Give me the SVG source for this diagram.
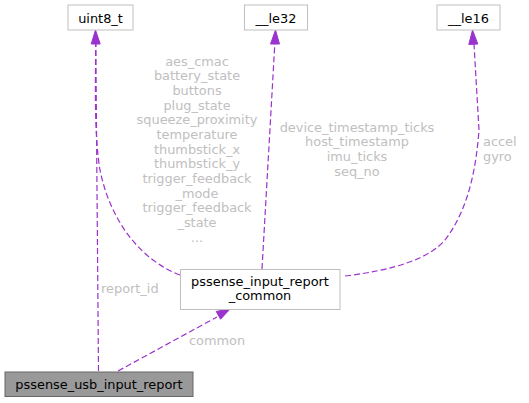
<svg xmlns="http://www.w3.org/2000/svg" width="529" height="403" viewBox="0 0 529 403">
<style>
text{font-family:"DejaVu Sans",sans-serif;font-size:12.9px}
.n{fill:#fff;stroke:#bfbfbf;stroke-width:1}
.nt{fill:#000;text-anchor:middle}
.e{fill:none;stroke:#9a32cd;stroke-width:1.2;stroke-dasharray:6,3}
.a{fill:#9a32cd;stroke:#9a32cd}
.l{fill:#c0c0c0}
.lm{fill:#c0c0c0;text-anchor:middle}
</style>
<rect width="529" height="403" fill="#fff"/>
<g id="edges">
<path class="e" d="M98.5,371 L95.8,44"/>
<path class="e" d="M180,275 C140,260 110,220 100,170 C95,140 95,100 95.8,44"/>
<polygon class="a" points="95.5,30 91.2,44 100.2,44"/>
<path class="e" d="M262,269 L274.8,44"/>
<polygon class="a" points="275.5,30 270.5,44 279.5,44"/>
<path class="e" d="M345,276 C395,270 430,258 445,240 C468,210 476,170 479,130 L474,44"/>
<polygon class="a" points="472.5,30 468.8,44.5 477.8,44"/>
<path class="e" d="M118,371 L217,317"/>
<polygon class="a" points="230,309 216.2,311.4 220.6,319.2"/>
<g class="labels">
<text class="lm" x="197"><tspan x="197" y="65.5">aes_cmac</tspan><tspan x="197" y="80.2">battery_state</tspan><tspan x="197" y="94.8">buttons</tspan><tspan x="197" y="109.5">plug_state</tspan><tspan x="197" y="124.2">squeeze_proximity</tspan><tspan x="197" y="138.8">temperature</tspan><tspan x="197" y="153.5">thumbstick_x</tspan><tspan x="197" y="168.2">thumbstick_y</tspan><tspan x="197" y="182.8">trigger_feedback</tspan><tspan x="197" y="197.5">_mode</tspan><tspan x="197" y="212.2">trigger_feedback</tspan><tspan x="197" y="226.8">_state</tspan><tspan x="197" y="241.5">...</tspan></text>
<text class="lm" x="357"><tspan x="357" y="131.5">device_timestamp_ticks</tspan><tspan x="357" y="146.2">host_timestamp</tspan><tspan x="357" y="160.8">imu_ticks</tspan><tspan x="357" y="175.5">seq_no</tspan></text>
<text class="l" x="483"><tspan x="483" y="146.2">accel</tspan><tspan x="483" y="160.8">gyro</tspan></text>
<text class="l" x="101" y="293">report_id</text>
<text class="lm" x="217" y="344.5">common</text>
</g>
</g>
<g id="node_uint8_t">
<rect class="n" x="68" y="5" width="65" height="25"/>
<text class="nt" x="100.5" y="22.5">uint8_t</text>
</g>
<g id="node_le32">
<rect class="n" x="244.5" y="5" width="63" height="25"/>
<text class="nt" x="276" y="22.5">__le32</text>
</g>
<g id="node_le16">
<rect class="n" x="437" y="5" width="63" height="25"/>
<text class="nt" x="468.5" y="22.5">__le16</text>
</g>
<g id="node_common">
<rect class="n" x="180.5" y="269.5" width="159.5" height="40"/>
<text class="nt" x="260" y="285.5">pssense_input_report</text>
<text class="nt" x="260" y="300">_common</text>
</g>
<g id="node_usb">
<rect x="5" y="372" width="188" height="24.5" fill="#999999" stroke="#666666"/>
<text class="nt" x="99" y="388.5">pssense_usb_input_report</text>
</g>
</svg>
